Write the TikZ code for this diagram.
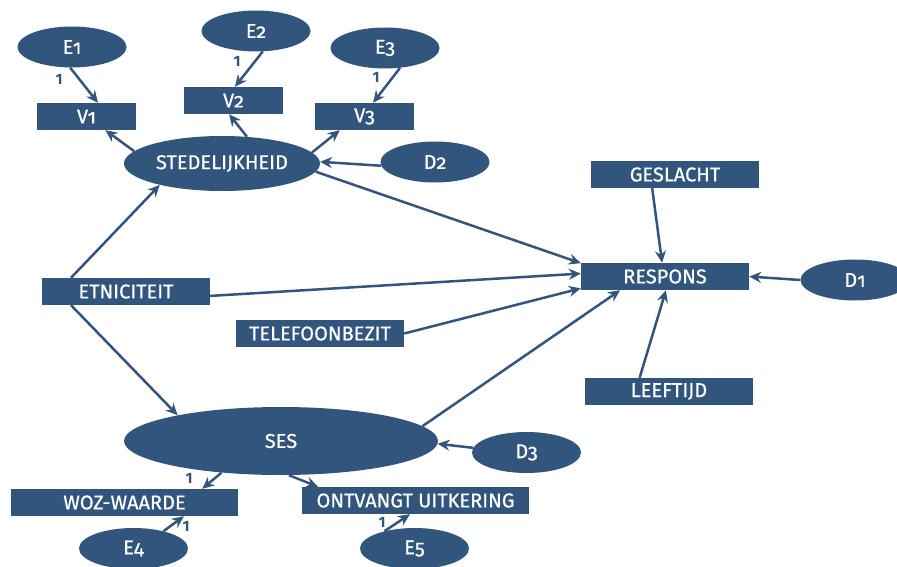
\documentclass[tikz,border=0pt]{standalone}
\usepackage{fontspec}
\setmainfont[Numbers=OldStyle]{Fira Sans}
\usetikzlibrary{shapes.geometric,arrows.meta}
\definecolor{navy}{RGB}{50,85,125}
\newfontfamily\lblfont[Numbers=OldStyle,FakeBold=0.6]{Fira Sans}
\newfontfamily\onefont[Numbers=Lining]{Fira Sans}
\begin{document}
\begin{tikzpicture}[x=1pt,y=-1pt,
  box/.style={rectangle,fill=navy,text=white,minimum width=168pt,minimum height=27pt,inner sep=0pt,font=\lblfont\fontsize{20}{22}\selectfont},
  sbox/.style={box,minimum width=99pt},
  wbox/.style={box,minimum width=227pt},
  ell/.style={ellipse,fill=navy,text=white,minimum width=109pt,minimum height=41pt,inner sep=0pt,font=\lblfont\fontsize{20}{22}\selectfont},
  link/.style={draw=navy,line width=2.5pt,-{Stealth[length=12pt,width=11pt,inset=4pt]}},
  one/.style={text=navy,inner sep=0pt,font=\onefont\bfseries\fontsize{15}{16}\selectfont}]
\useasboundingbox (0,0) rectangle (897,567);
% nodes
\node[ell] (E1) at (72,47) {E1};
\node[ell] (E2) at (256,31) {E2};
\node[ell] (E3) at (385,48) {E3};
\node[sbox] (V1) at (86.5,116.5) {V1};
\node[sbox] (V2) at (233.5,100.5) {V2};
\node[sbox] (V3) at (364.5,116.5) {V3};
\node[ell,minimum width=196pt,minimum height=55pt] (STED) at (222,163.5) {STEDELIJKHEID};
\node[ell] (D2) at (435,162) {D2};
\node[box] (GES) at (675,174.5) {GESLACHT};
\node[box] (RES) at (665,276.5) {RESPONS};
\node[ell] (D1) at (855,280) {D1};
\node[box] (ETN) at (126,291.5) {ETNICITEIT};
\node[box] (TEL) at (320,333.5) {TELEFOONBEZIT};
\node[box] (LFT) at (669,391.5) {LEEFTIJD};
\node[ell,minimum width=314pt,minimum height=68pt] (SES) at (281,441) {SES};
\node[ell] (D3) at (526.5,452.5) {D3};
\node[wbox] (WOZ) at (124.5,502.5) {WOZ-WAARDE};
\node[wbox] (ONT) at (415.5,500.5) {ONTVANGT UITKERING};
\node[ell] (E4) at (133.5,548.5) {E4};
\node[ell] (E5) at (414.5,548.5) {E5};
% connectors
\draw[link] (E1.265) -- (V1.50);
\draw[link] (E2.288) -- (V2.84);
\draw[link] (E3.307) -- (V3.58);
\draw[link] (STED.172) -- (V1.324);
\draw[link] (STED.47) -- (V2.252);
\draw[link] (STED.7.5) -- (V3.209);
\draw[link] (D2.184) -- (STED.1);
\draw[link] (STED.355) -- (RES.171);
\draw[link] (ETN.166) -- (STED.199);
\draw[link] (ETN.194) -- (SES.166);
\draw[link] (ETN.357.6) -- (RES.178);
\draw[link] (TEL.east) -- (RES.188.5);
\draw[link] (SES.6.5) -- (RES.197);
\draw[link] (GES.211.5) -- (RES.102.5);
\draw[link] (LFT.155) -- (RES.274);
\draw[link] (D1.west) -- (RES.east);
\draw[link] (D3.175) -- (SES.359);
\draw[link] (SES.208) -- (WOZ.10);
\draw[link] (SES.283) -- (ONT.172);
\draw[link] (E4.30) -- (WOZ.347);
\draw[link] (E5.150) -- (ONT.248);
% loadings
\node[one] (l1) at (59,79) {1};
\node[one] (l2) at (237,61) {1};
\node[one] (l3) at (376,77) {1};
\node[one] (l4) at (189,478) {1};
\node[one] (l5) at (186,526) {1};
\node[one] (l6) at (382,522) {1};
\end{tikzpicture}
\end{document}
